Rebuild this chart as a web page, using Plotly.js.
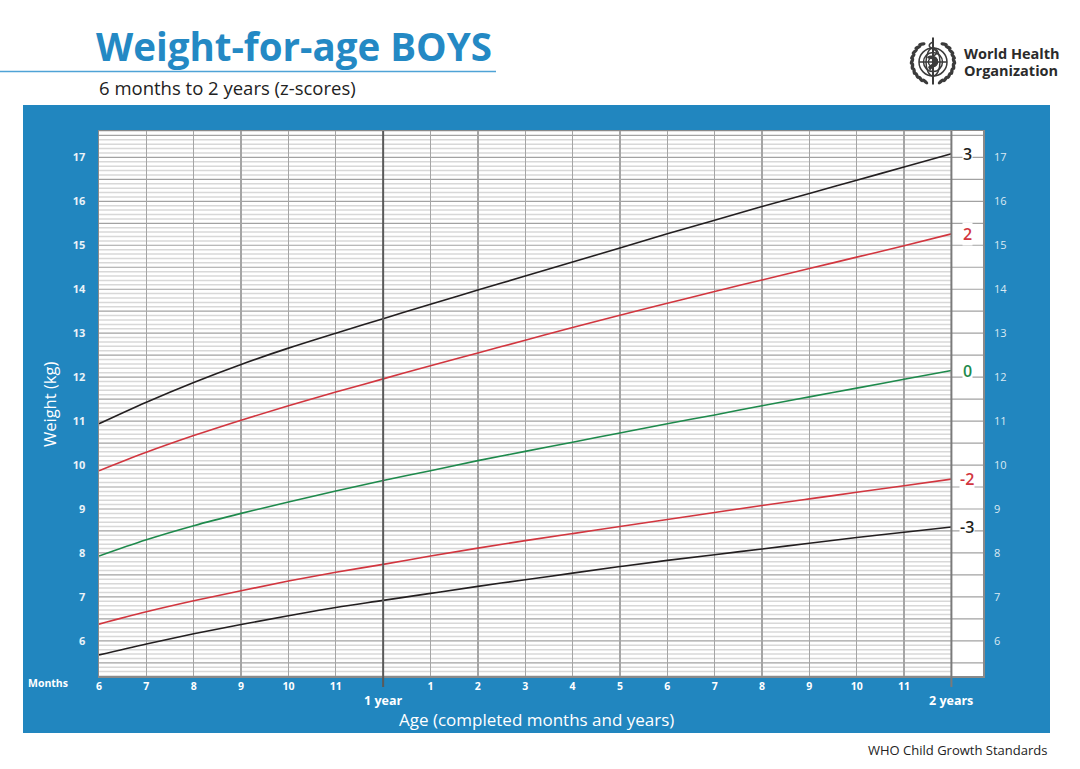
<!DOCTYPE html>
<html>
<head>
<meta charset="utf-8">
<script src="https://cdn.plot.ly/plotly-3.0.1.min.js"></script>
<style>
  html, body { margin: 0; padding: 0; background: #fff; }
  #plot { width: 1080px; height: 769px; }
</style>
</head>
<body>
<div id="plot"></div>
<script>
// WHO weight-for-age, boys, 6 months to 2 years (kg)
var months = [6, 7, 8, 9, 10, 11, 12, 13, 14, 15, 16, 17, 18, 19, 20, 21, 22, 23, 24];
var sdNeg3 = [5.68, 5.93, 6.16, 6.37, 6.57, 6.76, 6.92, 7.08, 7.24, 7.39, 7.54, 7.69, 7.83, 7.96, 8.09, 8.22, 8.35, 8.47, 8.59];
var sdNeg2 = [6.38, 6.66, 6.91, 7.14, 7.36, 7.56, 7.74, 7.93, 8.11, 8.28, 8.44, 8.60, 8.76, 8.92, 9.08, 9.23, 9.38, 9.53, 9.68];
var sd0    = [7.93, 8.30, 8.62, 8.90, 9.16, 9.41, 9.65, 9.87, 10.10, 10.31, 10.52, 10.73, 10.94, 11.14, 11.35, 11.55, 11.75, 11.95, 12.15];
var sd2    = [9.87, 10.29, 10.67, 11.02, 11.35, 11.66, 11.96, 12.26, 12.55, 12.84, 13.13, 13.41, 13.68, 13.95, 14.21, 14.47, 14.73, 14.99, 15.26];
var sd3    = [10.94, 11.43, 11.88, 12.29, 12.66, 13.00, 13.33, 13.66, 13.98, 14.30, 14.62, 14.94, 15.26, 15.57, 15.88, 16.18, 16.48, 16.78, 17.08];

var zNames = ["-3", "-2", "0", "2", "3"];
var zColors = ["#231f20", "#d2363f", "#1e8a4c", "#d2363f", "#231f20"];
var zSeries = [sdNeg3, sdNeg2, sd0, sd2, sd3];

var monthTicks  = [6, 7, 8, 9, 10, 11, 13, 14, 15, 16, 17, 18, 19, 20, 21, 22, 23];
var monthLabels = ["6", "7", "8", "9", "10", "11", "1", "2", "3", "4", "5", "6", "7", "8", "9", "10", "11"];
var kgTicks = [6, 7, 8, 9, 10, 11, 12, 13, 14, 15, 16, 17];

var FONT = "Open Sans, Noto Sans, sans-serif";
var BLUE = "#2186bf";

// plot area in pixels: 99..983 x 131..676
var L = 99, R = 983, T = 131, B = 676;
function px(x) { return (x - L) / (R - L); }
function py(y) { return (B - y) / (B - T); }

var traces = zSeries.map(function(s, i) {
  return {
    x: months, y: s, type: "scatter", mode: "lines",
    line: { color: zColors[i], width: 1.6, shape: "spline", smoothing: 1 },
    hoverinfo: "x+y", showlegend: false
  };
});
// carries the right-hand axis
traces.push({
  x: months, y: sd0, yaxis: "y2", type: "scatter", mode: "lines",
  line: { width: 0, color: "rgba(0,0,0,0)" }, hoverinfo: "skip", showlegend: false
});

var shapes = [
  { type: "rect", xref: "paper", yref: "paper", x0: px(23), x1: px(1050), y0: py(733), y1: py(105),
    fillcolor: BLUE, line: { width: 0 }, layer: "below" },
  { type: "rect", xref: "paper", yref: "paper", x0: 0, x1: 1, y0: 0, y1: 1,
    fillcolor: "#ffffff", line: { width: 0 }, layer: "below" },
  { type: "line", xref: "paper", yref: "paper", x0: px(0), x1: px(496), y0: py(71.5), y1: py(71.5),
    line: { color: "#4fa3d6", width: 1.5 } }
];

// weight grid: 0.1 kg fine lines, 0.5 kg lines across the label column
for (var i = 52; i <= 176; i++) {
  var v = i / 10;
  if (i % 5 === 0) {
    shapes.push({ type: "line", xref: "x", yref: "y", x0: 6, x1: 24.667, y0: v, y1: v,
      line: { color: "#a2a2a2", width: 1.2 }, layer: "below" });
  } else {
    shapes.push({ type: "line", xref: "x", yref: "y", x0: 6, x1: 24, y0: v, y1: v,
      line: { color: "#d8d8d8", width: 1.5 }, layer: "below" });
  }
}
// year lines
shapes.push({ type: "line", xref: "x", yref: "paper", x0: 12, x1: 12, y0: py(687), y1: 1,
  line: { color: "#5a5a5a", width: 2 }, layer: "above" });
shapes.push({ type: "line", xref: "x", yref: "paper", x0: 24, x1: 24, y0: py(687), y1: 1,
  line: { color: "#7a7a7a", width: 2 }, layer: "above" });

var annotations = [
  { xref: "paper", yref: "paper", x: px(94), y: py(46), xanchor: "left", yanchor: "middle",
    text: "Weight-for-age BOYS", showarrow: false,
    font: { family: FONT, size: 38.5, color: "#2489c4", weight: 700 } },
  { xref: "paper", yref: "paper", x: px(97), y: py(87), xanchor: "left", yanchor: "middle",
    text: "6 months to 2 years (z-scores)", showarrow: false,
    font: { family: FONT, size: 18.5, color: "#222" } },
  { xref: "paper", yref: "paper", x: px(962), y: py(53), xanchor: "left", yanchor: "middle",
    text: "World Health", showarrow: false,
    font: { family: FONT, size: 14.5, color: "#2b2b2b", weight: 700 } },
  { xref: "paper", yref: "paper", x: px(962), y: py(70), xanchor: "left", yanchor: "middle",
    text: "Organization", showarrow: false,
    font: { family: FONT, size: 14.5, color: "#2b2b2b", weight: 700 } },
  { xref: "paper", yref: "paper", x: px(50), y: py(405), xanchor: "center", yanchor: "middle",
    text: "Weight (kg)", textangle: -90, showarrow: false,
    font: { family: FONT, size: 16.5, color: "#ffffff" } },
  { xref: "paper", yref: "paper", x: px(536), y: py(719), xanchor: "center", yanchor: "middle",
    text: "Age (completed months and years)", showarrow: false,
    font: { family: FONT, size: 17, color: "#ffffff" } },
  { xref: "paper", yref: "paper", x: px(48), y: py(683), xanchor: "center", yanchor: "middle",
    text: "Months", showarrow: false,
    font: { family: FONT, size: 10.5, color: "#ffffff", weight: 700 } },
  { xref: "x", yref: "paper", x: 12, y: py(700), xanchor: "center", yanchor: "middle",
    text: "1 year", showarrow: false,
    font: { family: FONT, size: 12.5, color: "#ffffff", weight: 700 } },
  { xref: "x", yref: "paper", x: 24, y: py(700), xanchor: "center", yanchor: "middle",
    text: "2 years", showarrow: false,
    font: { family: FONT, size: 12.5, color: "#ffffff", weight: 700 } },
  { xref: "paper", yref: "paper", x: px(1049), y: py(750), xanchor: "right", yanchor: "middle",
    text: "WHO Child Growth Standards", showarrow: false,
    font: { family: FONT, size: 13, color: "#222" } }
];

// z-score labels in the right-hand column
zSeries.forEach(function(s, i) {
  annotations.push({
    xref: "x", yref: "y", x: 24.333, y: s[s.length - 1], xanchor: "center", yanchor: "middle",
    text: zNames[i], showarrow: false, bgcolor: "#ffffff", borderpad: 0,
    font: { family: FONT, size: 16, color: zColors[i], weight: 600 }
  });
});

// WHO emblem, drawn as a small svg
function emblem() {
  var s = "<svg xmlns='http://www.w3.org/2000/svg' viewBox='0 0 100 100'>";
  s += "<g fill='none' stroke='#3b3b3b' stroke-width='3'>";
  s += "<circle cx='50' cy='52' r='28'/><circle cx='50' cy='52' r='19'/><circle cx='50' cy='52' r='9'/>";
  s += "<path d='M22 52H78M50 24V80'/><ellipse cx='50' cy='52' rx='14' ry='28'/>";
  s += "</g>";
  s += "<path d='M38 42 C46 36 58 40 60 48 C62 58 48 62 44 70 L40 62 C46 56 54 54 50 48 C46 44 40 48 38 42Z' fill='#3b3b3b'/>";
  for (var a = 112; a <= 250; a += 14) {
    var r1 = a * Math.PI / 180, r2 = (180 - a) * Math.PI / 180;
    var lx = 50 + 42 * Math.cos(r1), ly = 52 + 42 * Math.sin(r1);
    var rx = 50 + 42 * Math.cos(r2), ry = 52 + 42 * Math.sin(r2);
    s += "<ellipse cx='" + lx.toFixed(1) + "' cy='" + ly.toFixed(1) + "' rx='3.4' ry='7.5' fill='#3b3b3b' transform='rotate(" + (a - 160) + " " + lx.toFixed(1) + " " + ly.toFixed(1) + ")'/>";
    s += "<ellipse cx='" + rx.toFixed(1) + "' cy='" + ry.toFixed(1) + "' rx='3.4' ry='7.5' fill='#3b3b3b' transform='rotate(" + (160 - a) + " " + rx.toFixed(1) + " " + ry.toFixed(1) + ")'/>";
  }
  s += "<path d='M50 3V97' stroke='#3b3b3b' stroke-width='4'/>";
  s += "<path d='M50 12 C40 16 40 22 50 26 C60 30 60 36 50 40' fill='none' stroke='#3b3b3b' stroke-width='3'/>";
  s += "</svg>";
  return "data:image/svg+xml;charset=utf-8," + encodeURIComponent(s);
}

var layout = {
  width: 1080, height: 769,
  margin: { l: L, r: 1080 - R, t: T, b: 769 - B, pad: 0 },
  paper_bgcolor: "#ffffff", plot_bgcolor: "#ffffff",
  showlegend: false,
  font: { family: FONT },
  xaxis: {
    range: [6, 24.667], tickvals: monthTicks, ticktext: monthLabels,
    showgrid: true, gridcolor: "#a5a5a5", gridwidth: 1.3, zeroline: false,
    showline: true, mirror: true, linecolor: "#8a8a8a", linewidth: 1.5,
    ticks: "", ticklabelstandoff: 0,
    tickfont: { family: FONT, size: 10.5, color: "#ffffff", weight: 700 }
  },
  yaxis: {
    range: [5.2, 17.6], tickvals: kgTicks, showgrid: false, zeroline: false,
    showline: true, mirror: true, linecolor: "#8a8a8a", linewidth: 1.5,
    ticks: "", ticklabelstandoff: 10,
    tickfont: { family: FONT, size: 11, color: "#eaf2f8", weight: 700 }
  },
  yaxis2: {
    overlaying: "y", side: "right", matches: "y", range: [5.2, 17.6], tickvals: kgTicks,
    showgrid: false, zeroline: false, showline: false, ticks: "", ticklabelstandoff: 10,
    tickfont: { family: FONT, size: 11, color: "#dbe9f3" }
  },
  shapes: shapes,
  annotations: annotations,
  images: [{
    source: emblem(), xref: "paper", yref: "paper", x: px(908), y: py(36),
    sizex: 50 / (R - L), sizey: 50 / (B - T), xanchor: "left", yanchor: "top",
    sizing: "stretch", layer: "above"
  }]
};

Plotly.newPlot("plot", traces, layout, { displayModeBar: false, staticPlot: true });
</script>
</body>
</html>
